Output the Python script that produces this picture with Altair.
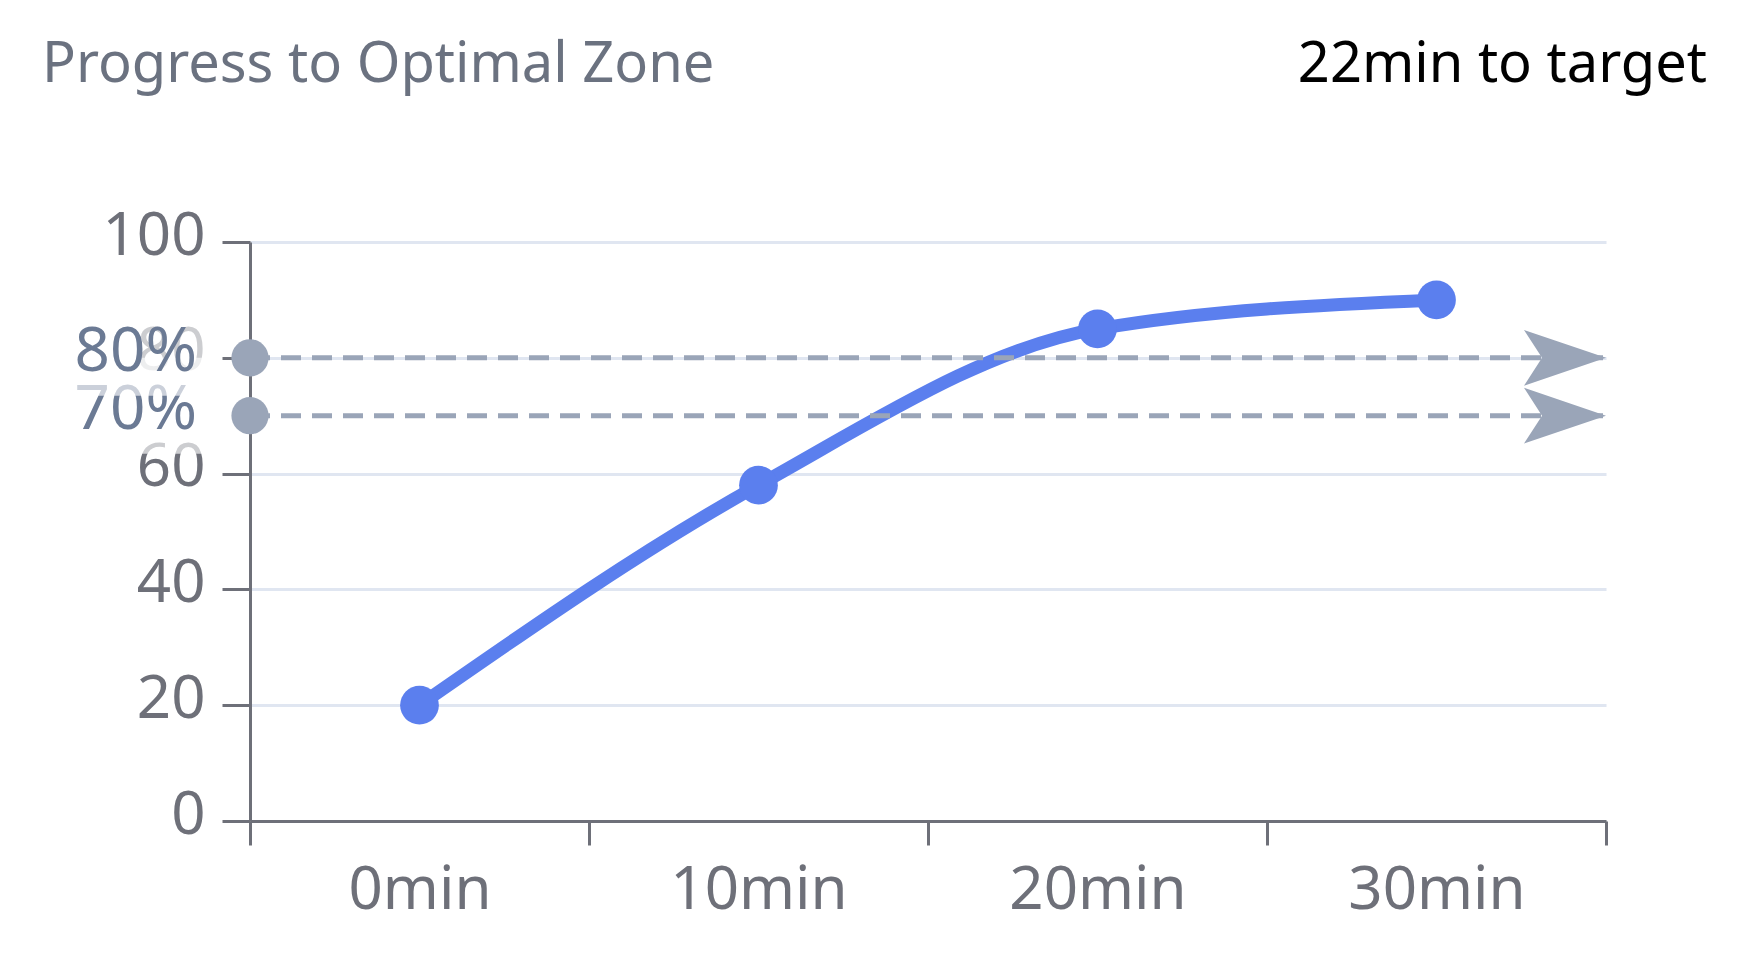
import altair as alt
import pandas as pd

times = ["0min", "10min", "20min", "30min"]
progress = [20, 58, 85, 90]
targets = [70, 80]
target_labels = ["70%", "80%"]
y_ticks = [0, 20, 40, 60, 80, 100]
title_text = "Progress to Optimal Zone"
eta_text = "22min to target"

W, H = 1356, 579
FONT = "Noto Sans"
BLUE = "#5B7FEE"
SLATE = "#9AA5B8"
SLATE_TXT = "#6B7A94"
AXIS = "#6E7079"

df = pd.DataFrame({"t": times, "v": progress})

x_enc = alt.X(
    "t:N",
    sort=times,
    scale=alt.Scale(type="band", paddingInner=0, paddingOuter=0),
    axis=alt.Axis(
        title=None, tickBand="extent", labelAngle=0, grid=False,
        labelBaseline="alphabetic", labelPadding=63, tickSize=24,
    ),
)
y_enc = alt.Y(
    "v:Q",
    scale=alt.Scale(domain=[0, 100], nice=False),
    axis=alt.Axis(
        title=None, values=y_ticks, grid=True, tickSize=28, labelPadding=17,
        labelBaseline="middle", labelOffset=-6,
    ),
)

line = alt.Chart(df).mark_line(
    interpolate="monotone", strokeWidth=13, color=BLUE
).encode(x=x_enc, y=y_enc)
dots = alt.Chart(df).mark_circle(size=1500, opacity=1, color=BLUE).encode(
    x=alt.X("t:N", sort=times), y=alt.Y("v:Q")
)

layers = [line]

arrow_path = "M-1,-0.68 L1,0 L-1,0.68 L-0.56,0 Z"
for val, lab in zip(targets, target_labels):
    d = pd.DataFrame({"v": [val], "label": [lab]})
    base = alt.Chart(d)
    rule = base.mark_rule(color=SLATE, strokeWidth=5, strokeDash=[20, 11]).encode(
        y=alt.Y("v:Q"), x=alt.value(0), x2=alt.value(W)
    )
    start = base.mark_circle(size=1385, opacity=1, color=SLATE).encode(
        y=alt.Y("v:Q"), x=alt.value(0)
    )
    arrow = base.mark_point(
        shape=arrow_path, filled=True, size=6724, opacity=1, color=SLATE
    ).encode(y=alt.Y("v:Q"), x=alt.value(W - 41))
    box = base.mark_rect(
        color="white", opacity=0.65, yOffset=-58, y2Offset=38
    ).encode(
        y=alt.Y("v:Q"), y2=alt.Y2("v"), x=alt.value(-188), x2=alt.value(-38)
    )
    txt = base.mark_text(
        align="right", baseline="middle", font=FONT, fontSize=62,
        color=SLATE_TXT, dy=-6,
    ).encode(y=alt.Y("v:Q"), x=alt.value(-53), text="label:N")
    layers += [rule, box, txt, start, arrow]

layers.append(dots)

title = alt.Chart(pd.DataFrame({"s": [title_text]})).mark_text(
    align="left", baseline="alphabetic", font=FONT, fontSize=56, color="#6B7280"
).encode(text="s:N", x=alt.value(-208), y=alt.value(-160))
eta = alt.Chart(pd.DataFrame({"s": [eta_text]})).mark_text(
    align="right", baseline="alphabetic", font=FONT, fontSize=56, color="#000000"
).encode(text="s:N", x=alt.value(W + 101), y=alt.value(-160))
layers += [title, eta]

chart = alt.layer(*layers).properties(
    width=W, height=H,
    autosize=alt.AutoSizeParams(type="none"),
    padding={"left": 242, "top": 234, "right": 150, "bottom": 149},
).configure_view(stroke=None).configure_axis(
    domainColor=AXIS, domainWidth=3, tickColor=AXIS, tickWidth=3,
    gridColor="#E0E6F1", gridWidth=3, labelColor=AXIS, labelFont=FONT,
    labelFontSize=60,
)

chart.save("out.html", embed_options={"renderer": "svg", "actions": False})
